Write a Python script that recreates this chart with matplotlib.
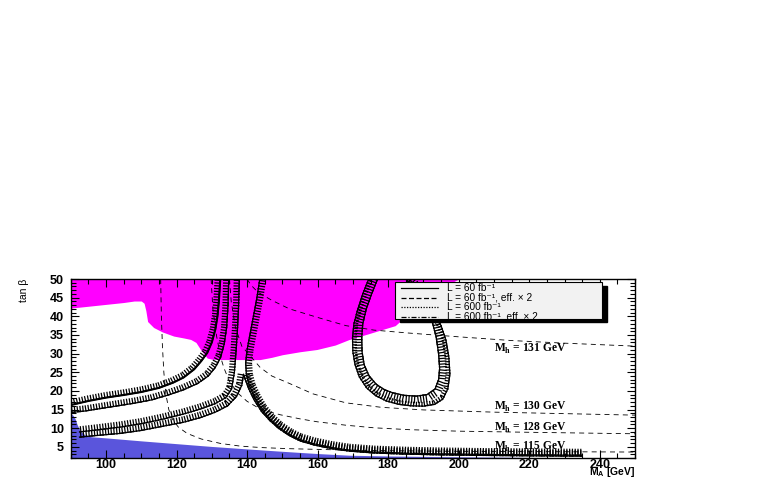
import matplotlib
matplotlib.use("Agg")
import matplotlib.pyplot as plt
from matplotlib import patheffects as pe
from matplotlib.patches import Rectangle
from matplotlib.ticker import MultipleLocator

plt.rcParams['font.family'] = ['Liberation Sans', 'DejaVu Sans']
plt.rcParams['mathtext.fontset'] = 'custom'
plt.rcParams['mathtext.rm'] = 'Liberation Sans'
plt.rcParams['mathtext.bf'] = 'Liberation Serif:bold'
plt.rcParams['mathtext.sf'] = 'Liberation Sans:bold'
plt.rcParams['path.simplify'] = False

# ---- data ----
xtick_vals = [100, 120, 140, 160, 180, 200, 220, 240]
ytick_vals = [5, 10, 15, 20, 25, 30, 35, 40, 45, 50]

# excluded (LEP) region, magenta
mag_x = [90, 95, 100, 105, 108, 110, 110.8, 111.3, 111.8, 113.5, 116, 119.2, 122, 124, 125.5,
         126.8, 128, 128.7, 130, 133, 136, 140, 143.7, 147, 150, 155, 159.8, 165, 169, 174,
         178.5, 182, 184, 186.5, 189, 192, 195, 198, 200]
mag_y = [42.2, 42.7, 43.2, 43.7, 44.1, 44.1, 43.5, 41.5, 38.6, 37, 35.8, 34.7, 34.2, 33.8, 33,
         31.1, 29.6, 28.8, 28.5, 28.4, 28.4, 28.4, 28.4, 29, 29.7, 30.5, 31.1, 32.3, 33.8, 35.2,
         36.5, 37.5, 39.2, 41, 43, 45, 47, 49, 50]

# theoretically inaccessible region, blue
blue_x = [90, 90.7, 91.3, 91.8, 92.3, 93, 94, 95.8, 100, 110, 120, 130, 143.7, 150, 160, 169,
          180, 197, 215, 234]
blue_y = [14.0, 13.4, 12.4, 11.0, 10.0, 9.0, 8.2, 7.7, 7.4, 6.6, 5.85, 5.1, 4.2, 3.8, 3.2,
          2.75, 2.55, 2.35, 2.2, 2.0]

# Mh iso-lines
mh115_x = [115.5, 115.7, 116, 116.4, 117, 117.8, 118.8, 120.5, 123, 127, 132.5, 138, 144, 152,
           165, 180, 200, 225, 250]
mh115_y = [50, 40, 32, 25, 19, 15, 12.5, 10.3, 8.6, 7.1, 5.9, 5.2, 4.8, 4.5, 4.2, 3.95, 3.8,
           3.7, 3.6]
mh128_x = [129.8, 130.3, 131.3, 132.5, 133.5, 135, 137.5, 140, 144, 149.4, 155, 160, 168, 176,
           186, 200, 220, 250]
mh128_y = [50, 42, 35, 29, 26, 22.5, 19.3, 17.2, 15, 13.6, 12.5, 11.7, 10.8, 10.1, 9.6, 9.2,
           8.9, 8.5]
mh130_x = [135, 135.5, 136.7, 138.5, 141.8, 143.7, 147, 152, 158.7, 168, 178, 190, 210, 230, 250]
mh130_y = [50, 44, 37, 32, 28.4, 26.3, 24, 22, 19.2, 16.8, 15.6, 14.9, 14.3, 13.9, 13.5]
mh131_x = [140, 141, 143, 147, 152, 160, 168, 176, 186, 200, 215, 230, 250]
mh131_y = [50, 48.5, 46.5, 44.3, 42, 39.7, 37.5, 36.3, 35.5, 34.5, 33.5, 32.8, 32]
mh_labels = ["131", "130", "128", "115"]
mh_label_y = [31.2, 15.6, 10.1, 4.9]

# discovery contours
l60_x = [90, 95, 100, 105, 110, 115, 119, 122, 125, 127, 128.7, 130, 131, 131.6, 132, 132.4]
l60_y = [16.2, 17.3, 18.2, 18.9, 19.7, 20.8, 22.2, 23.6, 25.8, 28, 30.2, 33, 36.5, 40, 44, 50]

l60e_x = [90, 94, 100, 108, 113, 118, 122, 126, 129, 131, 132.5, 133.5, 134.2, 134.6, 134.8]
l60e_y = [14.2, 14.6, 15.5, 16.7, 17.6, 19, 20.3, 22, 24, 26.3, 29, 32.5, 37, 43, 50]

l600_x = [92.5, 98, 104, 110, 116, 122, 127, 131, 134, 135.6, 136.4, 136.9, 137.3, 137.6, 137.8]
l600_y = [9.0, 9.6, 10.3, 11.2, 12.4, 13.8, 15.2, 16.6, 18.2, 20.5, 25, 31, 37, 43, 50]
l600r_x = [143.6, 142.8, 141.8, 140.8, 140.0, 139.6, 139.8, 140.6, 142, 144, 146.5, 149, 152,
           155, 159, 164, 169, 176, 185, 195, 207, 220, 235]
l600r_y = [50, 45, 40, 35, 31, 27.5, 24.5, 21.5, 18.5, 15.2, 12.4, 10.2, 8.3, 6.9, 5.8, 4.8,
           4.1, 3.6, 3.3, 3.1, 2.95, 2.85, 2.75]
l600o_x = [174.5, 172.8, 171.3, 170.3, 169.9, 170.0, 170.6, 171.8, 173.9, 176.5, 179.5, 183,
           186.5, 190, 193.2, 195.5, 196.9, 197.5, 197.2, 196.4, 195, 193, 190.5, 188, 186]
l600o_y = [50, 46, 41.6, 38, 34.3, 30.5, 27.1, 23.8, 20.8, 18.7, 17.3, 16.4, 16.0, 15.9, 16.4,
           17.8, 20.5, 24.5, 29, 33.5, 37.5, 41, 44.5, 47.5, 50]

l600e_x = [92.5, 98, 104, 110, 116, 122, 127, 131, 134.5, 137, 138.5, 139.0, 139.5, 140.5, 142,
           144, 146.5, 149, 152, 155, 159, 164, 169, 176, 185, 195, 207, 220, 235]
l600e_y = [7.6, 8.1, 8.6, 9.4, 10.5, 11.6, 12.9, 14.3, 16, 18.5, 21.5, 24.5, 23, 20.5, 17.6,
           14.6, 12, 9.9, 8.0, 6.6, 5.5, 4.5, 3.85, 3.35, 3.05, 2.85, 2.7, 2.6, 2.5]
l600eo_x = [177, 175.3, 173.8, 172.8, 172.5, 172.6, 173.2, 174.6, 176.7, 179, 181.3, 184.5, 188,
            191, 193.3, 194.3, 194.6, 194.3, 193.6, 192.5, 191, 189, 187, 185]
l600eo_y = [50, 46, 42, 38, 34.3, 30.5, 27, 24, 21.7, 20.3, 19.5, 18.8, 18.6, 19.0, 20.5, 23,
            26, 30, 34.5, 38.5, 42, 45, 48, 50]

legend_labels = ["L = 60 fb\u207b\u00b9", "L = 60 fb\u207b\u00b9, eff. \u00d7 2",
                 "L = 600 fb\u207b\u00b9", "L = 600 fb\u207b\u00b9, eff. \u00d7 2"]

# ---- plot ----
fig = plt.figure(figsize=(7.63, 4.8), dpi=100)
ax = fig.add_axes([0.0927, 0.0458, 0.7396, 0.3729])

ax.fill_between(mag_x, mag_y, 50, color='#ff00ff', lw=0, zorder=1)
ax.fill_between(blue_x, 0, blue_y, color='#5a55dc', lw=0, zorder=1)

for xs, ys in [(mh115_x, mh115_y), (mh128_x, mh128_y), (mh130_x, mh130_y), (mh131_x, mh131_y)]:
    ax.plot(xs, ys, color='k', lw=0.6, dashes=(6, 5), zorder=3)

for lab, yl in zip(mh_labels, mh_label_y):
    ax.text(210, yl, "M$_\\mathbf{h}$ = " + lab + " GeV", family='Liberation Serif',
            fontweight='bold', fontsize=8.3, va='center', ha='left', zorder=4)


def hatched(xs, ys, ls, lw, side=1, tick=1.8):
    # ROOT style hatched contour: ticks on one side, then the line itself
    ax.plot(xs, ys, color='k', lw=0.9, zorder=4,
            path_effects=[pe.withTickedStroke(angle=90 * side, spacing=2.0, length=tick)])
    ax.plot(xs, ys, color='k', lw=lw, linestyle=ls, zorder=5)


dotted = (0, (1, 1.2))
dashdot = (0, (4, 1.5, 1, 1.5))
dashed = (0, (4, 2))

hatched(l60_x, l60_y, '-', 1.5)
hatched(l60e_x, l60e_y, dashed, 0.9)
hatched(l600_x, l600_y, dotted, 1.0)
hatched(l600r_x, l600r_y, dotted, 1.0, tick=2.1)
hatched(l600o_x, l600o_y, dotted, 1.0, tick=1.3)
hatched(l600e_x, l600e_y, dashdot, 0.9, tick=1.9)
hatched(l600eo_x, l600eo_y, dashdot, 0.9, side=-1, tick=2.4)

ax.set_xlim(90, 250)
ax.set_ylim(2, 50)
ax.set_xticks(xtick_vals)
ax.set_yticks(ytick_vals)
ax.xaxis.set_minor_locator(MultipleLocator(5))
ax.yaxis.set_minor_locator(MultipleLocator(1))
ax.tick_params(which='both', direction='in', top=True, right=True, labelsize=9, width=0.8)
ax.tick_params(which='major', length=6)
ax.tick_params(which='minor', length=3.5)
ax.tick_params(axis='x', which='major', pad=1)
ax.tick_params(axis='y', which='major', pad=5)
plt.setp(ax.get_xticklabels() + ax.get_yticklabels(), fontweight='bold')
for s in ax.spines.values():
    s.set_linewidth(1.0)
    s.set_zorder(10)

# legend box with ROOT style shadow
ax.add_patch(Rectangle((0.5836, 0.7598), 0.3668, 0.2011, transform=ax.transAxes,
                       facecolor='k', edgecolor='k', zorder=20, clip_on=False))
ax.add_patch(Rectangle((0.5747, 0.7765), 0.3668, 0.2067, transform=ax.transAxes,
                       facecolor='#f2f2f2', edgecolor='k', lw=0.8, zorder=21, clip_on=False))
leg_styles = ['-', dashed, dotted, dashdot]
leg_rows = [0.950, 0.896, 0.842, 0.79]
for lab, st, yr in zip(legend_labels, leg_styles, leg_rows):
    ax.plot([0.5853, 0.6509], [yr, yr], transform=ax.transAxes, color='k', lw=0.9,
            linestyle=st, zorder=22, clip_on=False)
    ax.text(0.6668, yr, lab, transform=ax.transAxes, fontsize=7.3, va='center', ha='left',
            zorder=22)

fig.text(0.031, 0.419, "tan \u03b2", rotation=90, ha='center', va='top', fontsize=7.5)
fig.text(0.832, 0.002, "M$_\\mathsf{A}$ [GeV]", ha='right', va='bottom', fontsize=7.5,
         fontweight='bold')

fig.savefig("out.png", dpi=100)
